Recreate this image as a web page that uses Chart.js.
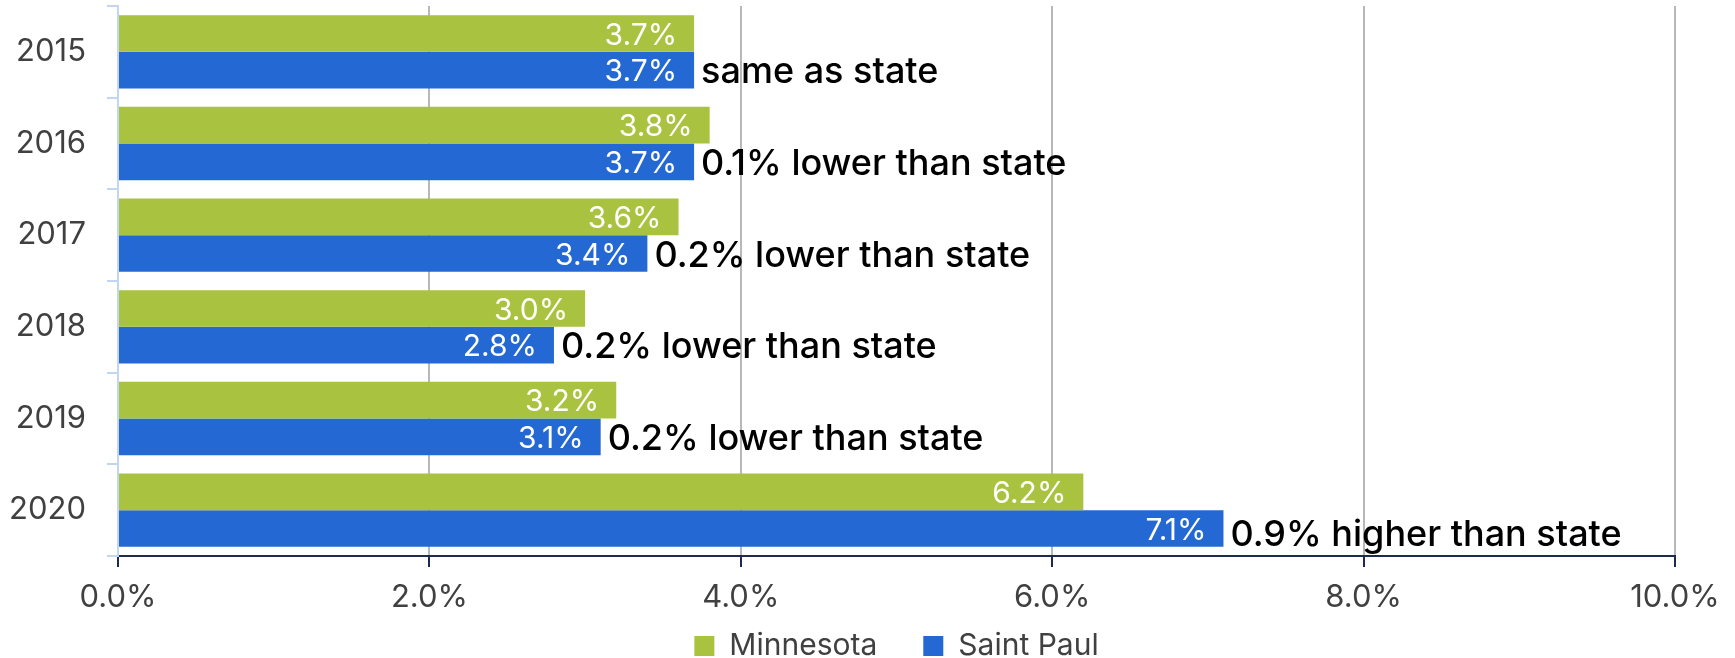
<!DOCTYPE html>
<html>
<head>
<meta charset="utf-8">
<script src="https://cdn.jsdelivr.net/npm/chart.js@4/dist/chart.umd.min.js"></script>
<style>
  html, body { margin: 0; padding: 0; background: #ffffff; }
  #wrap { width: 1735px; height: 658px; position: relative; }
</style>
</head>
<body>
<div id="wrap"><canvas id="c" width="1735" height="658"></canvas></div>
<script>
const years = ['2015', '2016', '2017', '2018', '2019', '2020'];
const minnesota = [3.7, 3.8, 3.6, 3.0, 3.2, 6.2];
const saintPaul = [3.7, 3.7, 3.4, 2.8, 3.1, 7.1];
const notes = [
  'same as state',
  '0.1% lower than state',
  '0.2% lower than state',
  '0.2% lower than state',
  '0.2% lower than state',
  '0.9% higher than state'
];
const seriesNames = ['Minnesota', 'Saint Paul'];
const xMin = 0, xMax = 10, xStep = 2;

const GREEN = '#a9c23f';
const BLUE = '#2368d3';
const FONT = 'Inter';

const barLabels = {
  id: 'barLabels',
  afterLayout(chart) {
    // let the x tick labels use the space below the axis
    chart.scales.x.bottom = chart.height;
  },
  afterDatasetsDraw(chart) {
    const ctx = chart.ctx;
    const last = chart.data.labels.length - 1;
    chart.data.datasets.forEach((ds, di) => {
      const meta = chart.getDatasetMeta(di);
      meta.data.forEach((bar, i) => {
        const v = ds.data[i];
        ctx.save();
        ctx.font = '400 30px ' + FONT;
        ctx.fillStyle = '#ffffff';
        ctx.textAlign = 'right';
        ctx.textBaseline = 'alphabetic';
        ctx.fillText(v.toFixed(1) + '%', bar.x - 17, bar.y + 11);
        if (di === 1) {
          ctx.font = '500 36px ' + FONT;
          ctx.fillStyle = '#000000';
          ctx.textAlign = 'left';
          ctx.fillText(notes[i], bar.x + 7, bar.y + (i === last ? 17 : 13));
        }
        ctx.restore();
      });
    });
  }
};

new Chart(document.getElementById('c'), {
  type: 'bar',
  data: {
    labels: years,
    datasets: [
      { label: seriesNames[0], data: minnesota, backgroundColor: GREEN, borderWidth: 0,
        categoryPercentage: 0.8, barPercentage: 1.0 },
      { label: seriesNames[1], data: saintPaul, backgroundColor: BLUE, borderWidth: 0,
        categoryPercentage: 0.8, barPercentage: 1.0 }
    ]
  },
  options: {
    indexAxis: 'y',
    responsive: false,
    animation: false,
    devicePixelRatio: 1,
    layout: { padding: { top: 6, right: 60, left: 0, bottom: -13 } },
    plugins: {
      legend: {
        position: 'bottom',
        fullSize: false,
        labels: {
          font: { family: FONT, size: 30 },
          color: '#404040',
          boxWidth: 20,
          boxHeight: 20,
          padding: 46
        }
      },
      tooltip: { enabled: false }
    },
    scales: {
      x: {
        min: xMin,
        max: xMax,
        ticks: {
          stepSize: xStep,
          font: { family: FONT, size: 31 },
          color: '#404040',
          padding: 12,
          callback: v => Number(v).toFixed(1) + '%'
        },
        grid: {
          color: ctx => (ctx.tick && ctx.tick.value === 0) ? 'rgba(0,0,0,0)' : '#b8b8b8',
          tickColor: '#1c2b4c',
          lineWidth: 2,
          tickLength: 11,
          drawOnChartArea: true
        },
        border: { color: '#1c2b4c', width: 2 },
        afterFit: s => { s.height = 29; }
      },
      y: {
        ticks: {
          font: { family: FONT, size: 31 },
          color: '#404040',
          padding: 21
        },
        grid: {
          drawOnChartArea: false,
          tickColor: '#c3d5f4',
          tickLength: 11,
          lineWidth: 2
        },
        border: { color: '#c3d5f4', width: 2 },
        afterFit: s => { s.width = 118; s.paddingTop = 0; s.paddingBottom = 0; }
      }
    }
  },
  plugins: [barLabels]
});
</script>
</body>
</html>
